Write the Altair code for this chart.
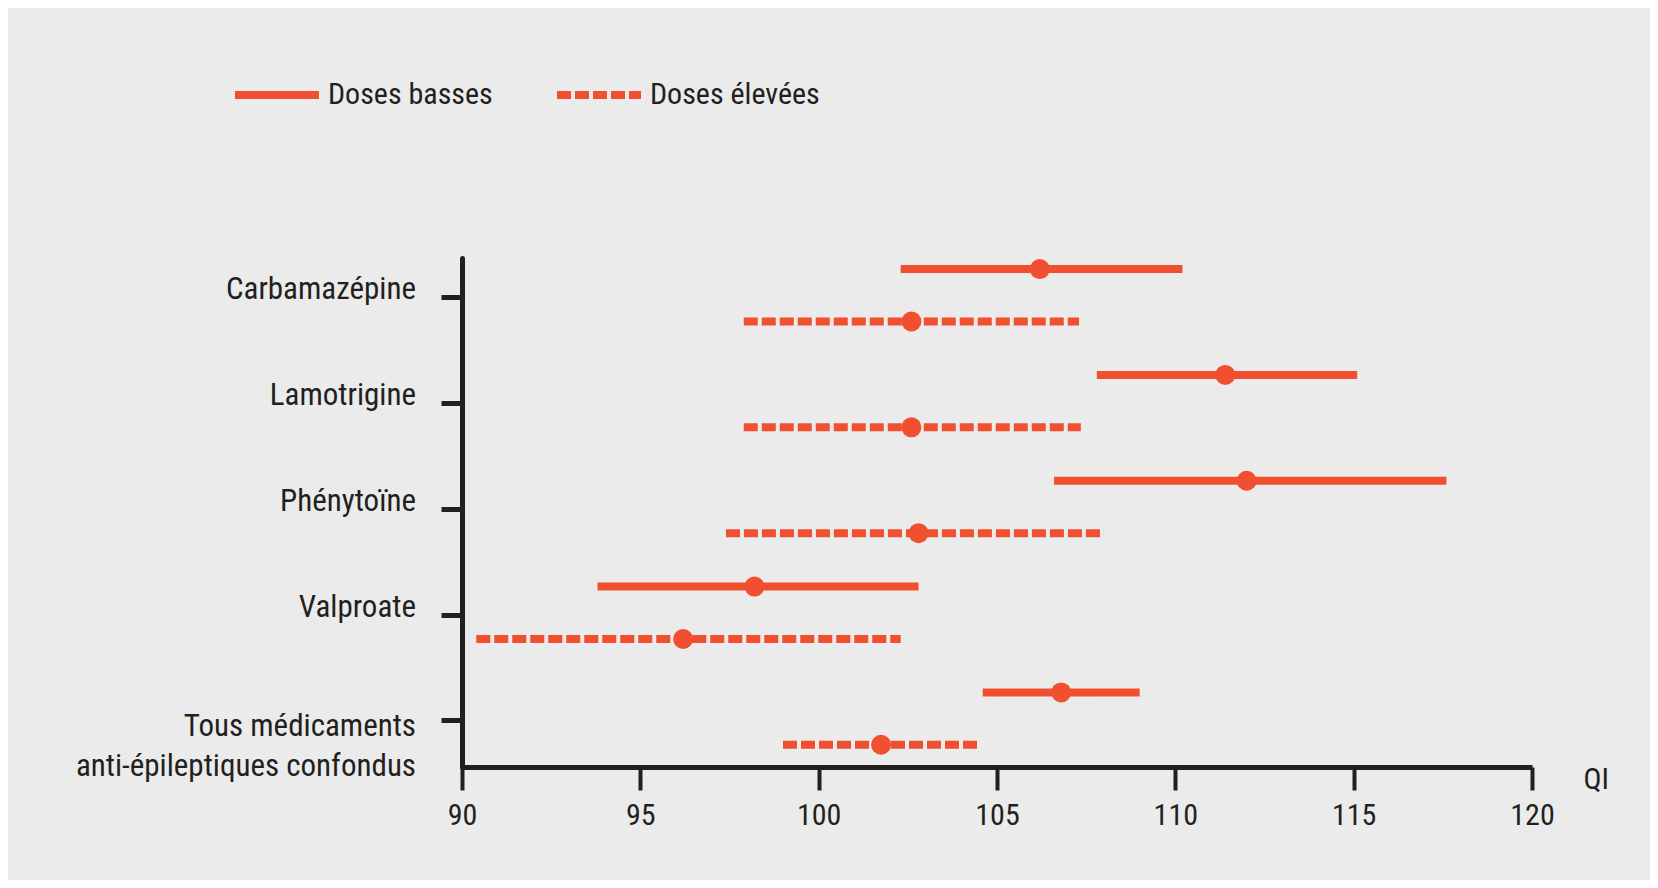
import altair as alt
import pandas as pd

# --- data ---
drugs = ["Carbamazépine", "Lamotrigine", "Phénytoïne", "Valproate",
         "Tous médicaments\u00a0\nanti-épileptiques confondus"]
doses = ["Doses basses", "Doses élevées"]

low_mean = [106.2, 111.4, 112.0, 98.2, 106.8]
low_lo = [102.3, 107.8, 106.6, 93.8, 104.6]
low_hi = [110.2, 115.1, 117.6, 102.8, 109.0]

high_mean = [102.6, 102.6, 102.8, 96.2, 101.75]
high_lo = [97.9, 97.9, 97.4, 90.4, 99.0]
high_hi = [107.3, 107.35, 108.0, 102.3, 104.5]

x_ticks = [90, 95, 100, 105, 110, 115, 120]

# layout constants
dose_offset = {"Doses basses": -0.265, "Doses élevées": 0.23}
ORANGE = "#F0502F"
INK = "#231f20"
BG = "#ebebeb"
FONT = "Roboto Condensed, Liberation Sans Narrow, DejaVu Sans Condensed, sans-serif"
FS = 30
FS_Y = 31

rows = []
for i, d in enumerate(drugs):
    for dose, m, lo, hi in [
        ("Doses basses", low_mean[i], low_lo[i], low_hi[i]),
        ("Doses élevées", high_mean[i], high_lo[i], high_hi[i]),
    ]:
        rows.append({"drug": d, "idx": i, "dose": dose, "mean": m,
                     "lo": lo, "hi": hi, "pos": i + dose_offset[dose]})
df = pd.DataFrame(rows)
labels_df = pd.DataFrame({"label": drugs, "idx": list(range(len(drugs)))})

x_scale = alt.Scale(domain=[90, 120], nice=False, zero=False)
y_scale = alt.Scale(domain=[-0.37, 4.44], reverse=True, nice=False, zero=False)

x_axis = alt.Axis(values=x_ticks, title="QI", grid=False, labelFlush=False,
                  domainColor=INK, domainWidth=5, tickColor=INK, tickWidth=4,
                  tickSize=23, labelFont=FONT, labelFontSize=FS, labelColor=INK,
                  labelPadding=10, titleFont=FONT, titleFontSize=FS,
                  titleFontWeight="normal", titleColor=INK, titleX=1121,
                  titleY=-3, titleAlign="left", titleBaseline="top",
                  titleAngle=0)
y_axis = alt.Axis(values=list(range(len(drugs))), labels=False, title=None,
                  grid=False, domainColor=INK, domainWidth=5, domainCap="round",
                  tickColor=INK, tickWidth=5, tickSize=21)

base = alt.Chart(df)

rules = base.mark_rule(color=ORANGE, strokeWidth=8, strokeCap="butt").encode(
    x=alt.X("lo:Q", scale=x_scale, axis=x_axis),
    x2="hi:Q",
    y=alt.Y("pos:Q", scale=y_scale, axis=y_axis),
    strokeDash=alt.StrokeDash(
        "dose:N",
        scale=alt.Scale(domain=doses, range=[[1, 0], [14, 4]]),
        legend=alt.Legend(title=None, orient="none", legendX=-231,
                          legendY=-209, direction="horizontal",
                          symbolType="stroke", symbolSize=7056,
                          symbolStrokeWidth=8, symbolStrokeColor=ORANGE,
                          labelFont=FONT, labelFontSize=FS, labelColor=INK,
                          labelOffset=5, columnPadding=48,
                          labelLimit=400),
    ),
)

points = base.mark_circle(color=ORANGE, size=400, opacity=1).encode(
    x=alt.X("mean:Q", scale=x_scale),
    y=alt.Y("pos:Q", scale=y_scale),
)

lab_single = alt.Chart(labels_df).transform_filter("datum.idx < 4").mark_text(
    font=FONT, fontSize=FS_Y, color=INK, align="right", baseline="alphabetic",
    dy=2,
).encode(
    x=alt.value(-46),
    y=alt.Y("idx:Q", scale=y_scale),
    text="label:N",
)

lab_multi = alt.Chart(labels_df).transform_filter("datum.idx >= 4").mark_text(
    font=FONT, fontSize=FS_Y, color=INK, align="right", baseline="alphabetic",
    dy=16, lineBreak="\n", lineHeight=40,
).encode(
    x=alt.value(-46),
    y=alt.Y("idx:Q", scale=y_scale),
    text="label:N",
)

chart = alt.layer(rules, points, lab_single, lab_multi).properties(
    width=1070, height=509,
    background=BG,
    padding={"left": 454, "top": 250, "right": 118, "bottom": 113},
    autosize=alt.AutoSizeParams(type="none"),
).configure_view(strokeWidth=0)

chart.save("out.html", embed_options={"renderer": "svg", "actions": False})
